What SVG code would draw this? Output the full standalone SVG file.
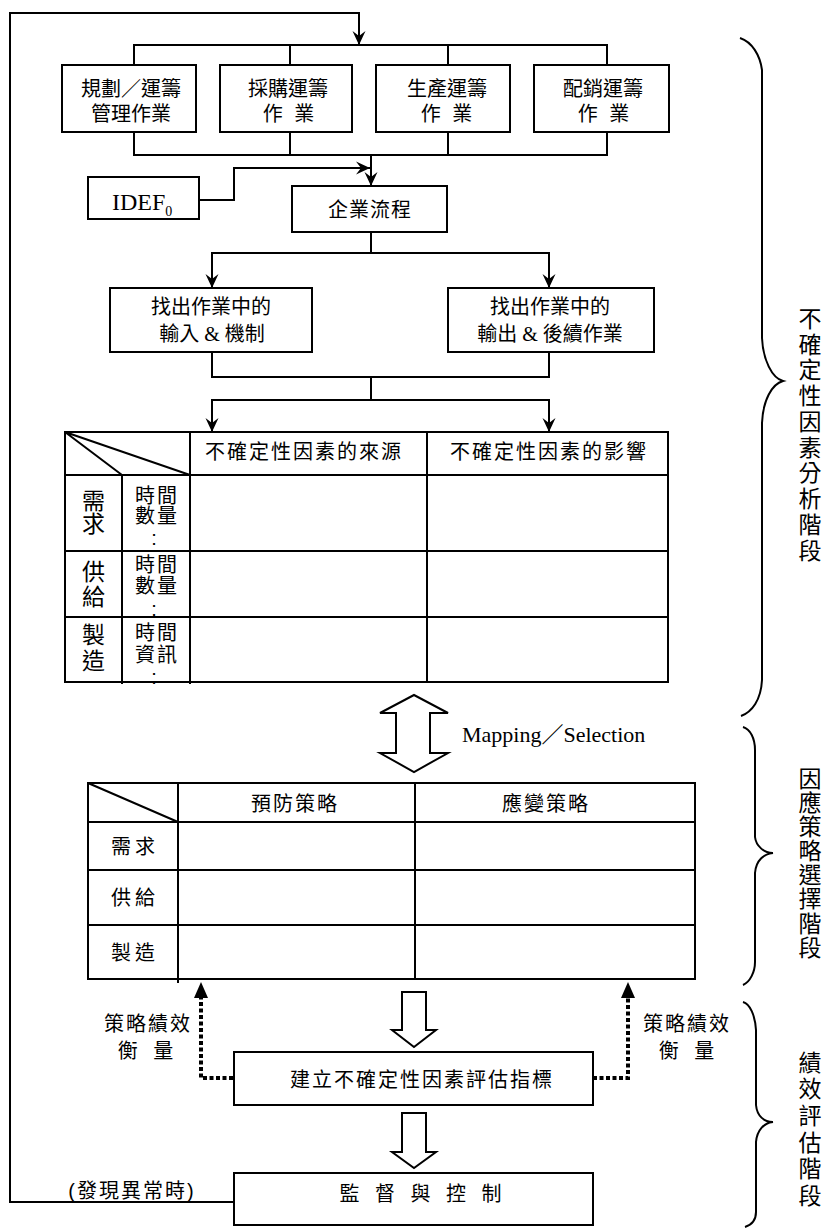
<svg xmlns="http://www.w3.org/2000/svg" width="825" height="1228" viewBox="0 0 825 1228">
<defs>
<style>
.box{fill:#fff;stroke:#000;stroke-width:2}
.ln{fill:none;stroke:#000;stroke-width:2}
.dot{fill:none;stroke:#000;stroke-width:4;stroke-dasharray:4 2.5}
.blk{fill:#fff;stroke:#000;stroke-width:2;stroke-linejoin:miter}
.t{font-family:"Liberation Sans","Noto Sans CJK TC","Noto Sans CJK SC",sans-serif;font-size:20px;text-anchor:middle;fill:#000}
.s{font-family:"Liberation Serif","Noto Sans CJK TC",serif;fill:#000}
.v{font-family:"Noto Sans CJK TC","Noto Sans CJK SC",sans-serif;font-size:23px;text-anchor:middle;fill:#000;writing-mode:vertical-rl}
.c{font-family:"Liberation Sans",sans-serif;font-size:20px;text-anchor:middle;fill:#000}
</style>
<marker id="ah" markerUnits="userSpaceOnUse" markerWidth="16" markerHeight="16" viewBox="-15 -8 16 16" refX="0" refY="0" orient="auto">
<path d="M0,0 L-14,-6.5 L-9,0 L-14,6.5 Z" fill="#000"/>
</marker>
</defs>
<rect width="825" height="1228" fill="#fff"/>

<g id="connectors">
<path class="ln" d="M234,1202 L10,1202 L10,13 L359,13 L359,45" marker-end="url(#ah)"/>
<path class="ln" d="M134,65 L134,45 L607,45 L607,65 M290,45 L290,65 M448,45 L448,65"/>
<path class="ln" d="M134,132 L134,155 L607,155 L607,132 M290,132 L290,155 M448,132 L448,155"/>
<path class="ln" d="M371,155 L371,186" marker-end="url(#ah)"/>
<path class="ln" d="M199,200 L234,200 L234,168 L370,168" marker-end="url(#ah)"/>
<path class="ln" d="M371,232 L371,253"/>
<path class="ln" d="M371,253 L212,253 L212,288" marker-end="url(#ah)"/>
<path class="ln" d="M371,253 L549,253 L549,288" marker-end="url(#ah)"/>
<path class="ln" d="M212,352 L212,377 L549,377 L549,352 M371,377 L371,400"/>
<path class="ln" d="M371,400 L212,400 L212,432" marker-end="url(#ah)"/>
<path class="ln" d="M371,400 L549,400 L549,432" marker-end="url(#ah)"/>
<path class="blk" d="M414,695 L448,713 L430,713 L430,753 L448,753 L414,772 L380,753 L396,753 L396,713 L380,713 Z"/>
<path class="blk" d="M402,992 L426,992 L426,1030 L436,1030 L414,1047 L392,1030 L402,1030 Z"/>
<path class="blk" d="M402,1113 L426,1113 L426,1152 L436,1152 L414,1168 L392,1152 L402,1152 Z"/>
<path class="dot" d="M233,1078 L201,1078 L201,997"/>
<polygon points="201,982 194,998 208,998" fill="#000"/>
<path class="dot" d="M593,1078 L628,1078 L628,997"/>
<polygon points="628,982 621,998 635,998" fill="#000"/>
</g>

<g id="box-plan">
<rect class="box" x="62" y="65" width="134" height="67"/>
<text class="t"><tspan x="131" y="95.5">規劃／運籌</tspan><tspan x="131" y="120.5">管理作業</tspan></text>
</g>
<g id="box-purchase">
<rect class="box" x="220" y="65" width="132" height="67"/>
<text class="t"><tspan x="288" y="95.5">採購運籌</tspan><tspan x="290" y="120.5" letter-spacing="3">作 業</tspan></text>
</g>
<g id="box-production">
<rect class="box" x="376" y="65" width="134" height="67"/>
<text class="t"><tspan x="447" y="95.5">生產運籌</tspan><tspan x="448" y="120.5" letter-spacing="3">作 業</tspan></text>
</g>
<g id="box-distribution">
<rect class="box" x="534" y="65" width="135" height="67"/>
<text class="t"><tspan x="603" y="95.5">配銷運籌</tspan><tspan x="605" y="120.5" letter-spacing="3">作 業</tspan></text>
</g>

<g id="box-idef0">
<rect class="box" x="88" y="177" width="111" height="42"/>
<text class="s" x="112" y="210" font-size="24">IDEF<tspan font-size="14" dy="6">0</tspan></text>
</g>
<g id="box-process">
<rect class="box" x="292" y="186" width="155" height="46"/>
<text class="t" x="370" y="217" font-size="21" letter-spacing="1">企業流程</text>
</g>

<g id="box-input">
<rect class="box" x="110" y="288" width="202" height="64"/>
<text class="t"><tspan x="211" y="313.5">找出作業中的</tspan><tspan x="212" y="340.5">輸入<tspan class="s"> &amp; </tspan>機制</tspan></text>
</g>
<g id="box-output">
<rect class="box" x="448" y="288" width="206" height="64"/>
<text class="t"><tspan x="550" y="313.5">找出作業中的</tspan><tspan x="550" y="340.5">輸出<tspan class="s"> &amp; </tspan>後續作業</tspan></text>
</g>

<g id="table-uncertainty">
<rect class="box" x="65" y="432" width="603" height="250" fill="none"/>
<path class="ln" d="M65,475 L668,475 M65,551 L668,551 M65,617 L668,617 M190,432 L190,684 M427,432 L427,682 M122,475 L122,684 M65,432 L122,475 M65,432 L190,475"/>
<text class="t" x="304" y="458.5" letter-spacing="2">不確定性因素的來源</text>
<text class="t" x="549" y="458.5" letter-spacing="2">不確定性因素的影響</text>
<text class="v" x="93.5" y="512" font-size="18">需求</text>
<text class="v" x="93.5" y="585" font-size="18" letter-spacing="2">供給</text>
<text class="v" x="93.5" y="649" font-size="18" letter-spacing="3">製造</text>
<text class="t" font-size="16" letter-spacing="2"><tspan x="157" y="503">時間</tspan><tspan x="157" y="523">數量</tspan></text>
<text class="c" x="154" y="545">:</text>
<text class="t" font-size="16" letter-spacing="2"><tspan x="157" y="572">時間</tspan><tspan x="157" y="593">數量</tspan></text>
<text class="c" x="154" y="616">:</text>
<text class="t" font-size="16" letter-spacing="2"><tspan x="157" y="640">時間</tspan><tspan x="157" y="662">資訊</tspan></text>
<text class="c" x="154" y="684">:</text>
</g>

<g id="label-mapping">
<text class="s" x="462" y="742" font-size="22">Mapping／Selection</text>
</g>

<g id="table-strategy">
<rect class="box" x="88" y="783" width="607" height="196" fill="none"/>
<path class="ln" d="M88,822 L695,822 M88,870 L695,870 M88,925 L695,925 M178,783 L178,983 M415,783 L415,979 M88,783 L178,822"/>
<text class="t" x="295" y="810.5" letter-spacing="2">預防策略</text>
<text class="t" x="546" y="810.5" letter-spacing="2">應變策略</text>
<text class="t" x="135" y="853.5" letter-spacing="4">需求</text>
<text class="t" x="135" y="905" letter-spacing="4">供給</text>
<text class="t" x="135" y="959.5" letter-spacing="4">製造</text>
</g>

<g id="label-measure-left">
<text class="t"><tspan x="148" y="1030.5" letter-spacing="2">策略績效</tspan><tspan x="148" y="1057.5" letter-spacing="5">衡 量</tspan></text>
</g>
<g id="label-measure-right">
<text class="t"><tspan x="687" y="1030.5" letter-spacing="2">策略績效</tspan><tspan x="689" y="1057.5" letter-spacing="5">衡 量</tspan></text>
</g>

<g id="box-index">
<rect class="box" x="234" y="1052" width="359" height="53"/>
<text class="t" x="422" y="1087" font-size="24" letter-spacing="2">建立不確定性因素評估指標</text>
</g>

<g id="box-monitor">
<rect class="box" x="234" y="1173" width="359" height="52"/>
<text class="t" x="423" y="1200.5" font-size="22" letter-spacing="5">監 督 與 控 制</text>
</g>

<g id="label-abnormal">
<text class="t" x="132" y="1197.5" letter-spacing="2">(發現異常時)</text>
</g>

<g id="brace-analysis">
<path class="ln" d="M740,38 C752,42 760,55 762,70 L762,338 C763,360 772,378 783,381 C772,384 763,400 762,423 L762,680 C761,700 752,712 741,716"/>
<text class="v" x="810" y="435.4" letter-spacing="2.78">不確定性因素分析階段</text>
</g>
<g id="brace-strategy">
<path class="ln" d="M743,727 C750,729 755,738 755,750 L755,837 C756,846 764,853 773,853 C764,854 756,860 755,873 L755,962 C755,972 750,982 743,985"/>
<text class="v" x="810" y="863.1" letter-spacing="1.14">因應策略選擇階段</text>
</g>
<g id="brace-evaluation">
<path class="ln" d="M743,1002 C750,1004 755,1015 756,1030 L756,1105 C757,1116 764,1122 773,1122 C764,1123 757,1130 756,1142 L756,1212 C756,1220 751,1225 745,1227"/>
<text class="v" x="810" y="1130.3" letter-spacing="3.6">績效評估階段</text>
</g>
</svg>
